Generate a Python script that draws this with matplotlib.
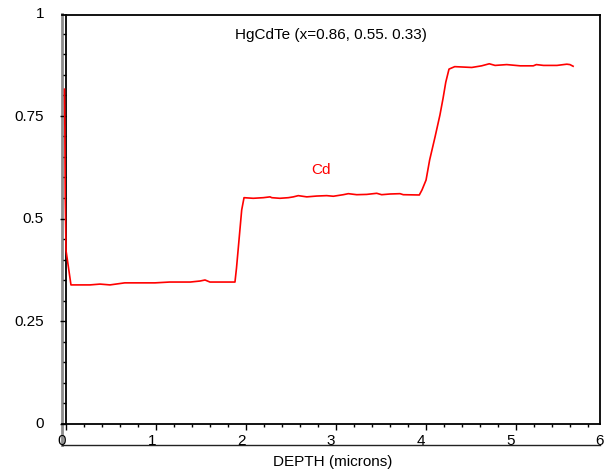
import matplotlib
matplotlib.use("Agg")
import matplotlib.pyplot as plt
from matplotlib.ticker import MultipleLocator

plt.rcParams.update({
    'font.family': ['Liberation Sans', 'DejaVu Sans'],
    'font.size': 11,
})

# depth profile of Cd fraction
depth = [0.028, 0.032, 0.036, 0.045, 0.10, 0.312, 0.424, 0.535, 0.70, 0.87,
         1.037, 1.20, 1.43, 1.54, 1.595, 1.65, 1.82, 1.929, 1.946, 2.004,
         2.03, 2.133, 2.245, 2.32, 2.34, 2.43, 2.524, 2.58, 2.635, 2.73,
         2.84, 2.952, 3.026, 3.137, 3.193, 3.287, 3.398, 3.51, 3.565, 3.658,
         3.77, 3.806, 3.985, 4.015, 4.06, 4.10, 4.16, 4.215, 4.25, 4.28,
         4.316, 4.38, 4.57, 4.68, 4.765, 4.83, 4.96, 5.11, 5.256, 5.29,
         5.37, 5.52, 5.63, 5.665, 5.70]
cd = [0.814, 0.72, 0.55, 0.42, 0.336, 0.336, 0.338, 0.336, 0.341, 0.341,
      0.341, 0.343, 0.343, 0.3455, 0.348, 0.343, 0.343, 0.343, 0.377, 0.519,
      0.549, 0.5475, 0.549, 0.551, 0.549, 0.5475, 0.549, 0.551, 0.554, 0.551,
      0.553, 0.554, 0.5525, 0.5563, 0.5588, 0.5563, 0.557, 0.5597, 0.5563, 0.558,
      0.5588, 0.5563, 0.5556, 0.568, 0.592, 0.641, 0.697, 0.751, 0.792, 0.831,
      0.863, 0.869, 0.867, 0.871, 0.876, 0.872, 0.874, 0.871, 0.871, 0.874,
      0.872, 0.872, 0.875, 0.874, 0.870]

x_ticks = [0, 1, 2, 3, 4, 5, 6]
y_ticks = [0, 0.25, 0.5, 0.75, 1]
y_labels = ['0', '0.25', '0.5', '0.75', '1']

W, H = 610, 473
fig = plt.figure(figsize=(W / 100, H / 100), dpi=100)

def px_rect(left, top, right, bottom):
    return [left / W, (H - bottom) / H, (right - left) / W, (bottom - top) / H]

# outer frame: grey left line and line under the tick labels
frame = fig.add_axes(px_rect(62, 14, 600, 445))
frame.set_facecolor('none')
for s in ['top', 'right']:
    frame.spines[s].set_visible(False)
frame.spines['left'].set_color('#8c8c8c')
frame.spines['left'].set_linewidth(2)
frame.spines['bottom'].set_color('#222222')
frame.spines['bottom'].set_linewidth(1)
frame.set_xticks([])
frame.set_yticks([])

# inner plot box with its tick marks
box = fig.add_axes(px_rect(62, 15, 600, 424))
box.set_facecolor('none')
box.set_xlim(-4 / 90, 534 / 90)
box.set_ylim(0, 409 / 411)
box.spines['left'].set_position(('data', 0))
for s in box.spines.values():
    s.set_color('black')
    s.set_linewidth(1.3)
box.xaxis.set_major_locator(MultipleLocator(1))
box.xaxis.set_minor_locator(MultipleLocator(0.2))
box.yaxis.set_major_locator(MultipleLocator(0.25))
box.yaxis.set_minor_locator(MultipleLocator(0.05))
box.tick_params(which='both', direction='out', labelbottom=False, labelleft=False,
                width=1, color='black')
box.tick_params(which='major', length=4)
box.tick_params(which='minor', length=2.5)

# data axes carrying the labels
ax = fig.add_axes(px_rect(62, 13, 600, 422.5))
ax.set_facecolor('none')
for s in ax.spines.values():
    s.set_visible(False)
ax.set_xlim(0, 6)
ax.set_ylim(0, 1)
ax.set_xticks(x_ticks)
ax.set_yticks(y_ticks)
ax.set_yticklabels(y_labels)
ax.tick_params(axis='both', length=0)
ax.tick_params(axis='y', pad=13)
ax.tick_params(axis='x', pad=8.5)

ax.plot(depth, cd, color='#ff0000', linewidth=1.2, clip_on=False)

fig.text(331 / W, 1 - 35 / H, 'HgCdTe (x=0.86, 0.55. 0.33)',
         ha='center', va='center', fontsize=11, color='black')
fig.text(321 / W, 1 - 170 / H, 'Cd', ha='center', va='center',
         fontsize=11, color='#ff0000')
fig.text(333 / W, 1 - 462 / H, 'DEPTH (microns)', ha='center', va='center',
         fontsize=11, color='black')

fig.savefig('out.png', dpi=100)
